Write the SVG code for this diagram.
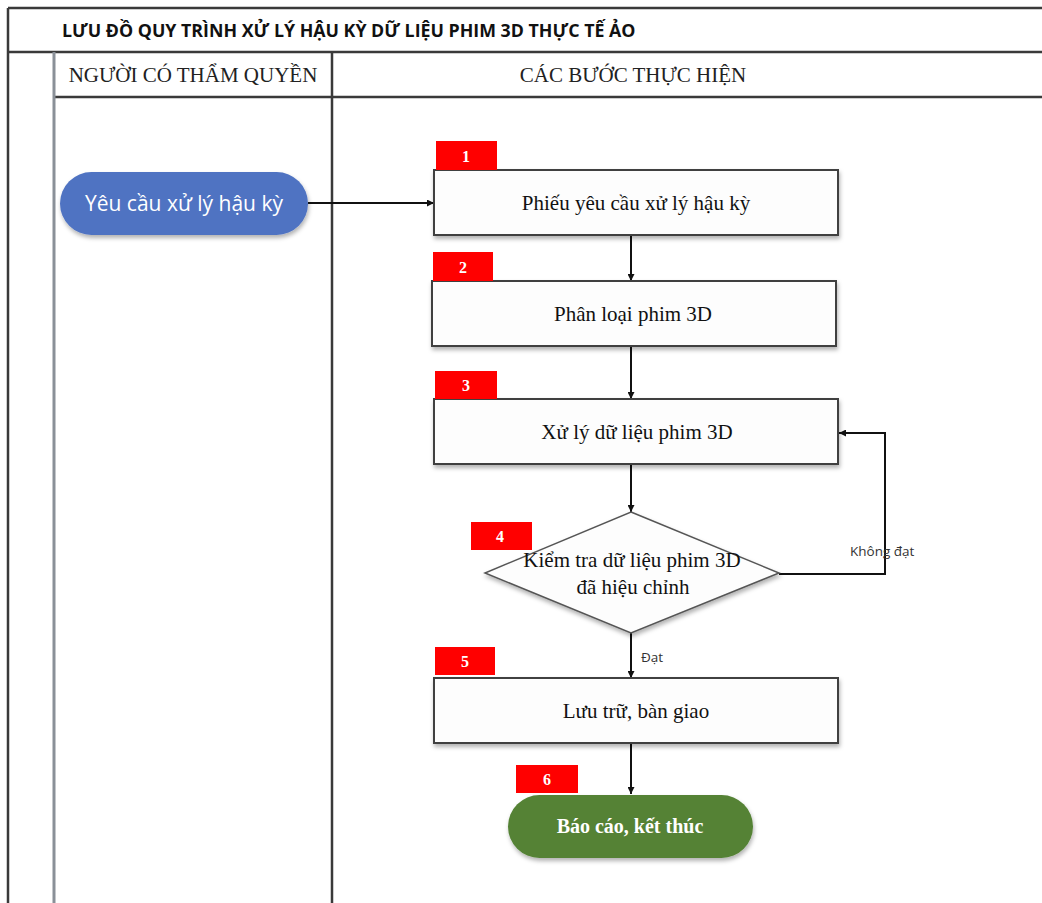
<svg xmlns="http://www.w3.org/2000/svg" width="1042" height="903" viewBox="0 0 1042 903">
<defs>
<style>
.grid{stroke:#3a3a3a;stroke-width:2.5;fill:none}
.gridl{stroke:#8a9098;stroke-width:3;fill:none}
.title{font-family:"Open Sans","Liberation Sans",sans-serif;font-weight:bold;font-size:17.8px;fill:#111}
.hdr{font-family:"Liberation Serif",serif;font-size:21px;fill:#222}
.box{fill:#fdfdfd;stroke:#404040;stroke-width:2}
.btxt{font-family:"Liberation Serif",serif;font-size:21px;fill:#111;text-anchor:middle}
.badge{fill:#ff0000}
.bnum{font-family:"Liberation Serif",serif;font-weight:bold;font-size:16px;fill:#fff;text-anchor:middle}
.conn{stroke:#111;stroke-width:2;fill:none}
.lbl{font-family:"Open Sans","Liberation Sans",sans-serif;font-size:13.5px;fill:#333}
</style>
<marker id="arr" viewBox="0 0 10 10" refX="10" refY="5" markerWidth="7" markerHeight="7" orient="auto" markerUnits="userSpaceOnUse">
<path d="M0,0 L10,5 L0,10 z" fill="#111"/>
</marker>
<filter id="sh" x="-10%" y="-10%" width="130%" height="140%">
<feDropShadow dx="1" dy="3" stdDeviation="2" flood-color="#000" flood-opacity="0.3"/>
</filter>
</defs>
<rect width="1042" height="903" fill="#fff"/>
<g id="frame">
<line class="grid" x1="8" y1="8" x2="1042" y2="8"/>
<line class="grid" x1="8" y1="52" x2="1042" y2="52"/>
<line class="grid" x1="54" y1="97" x2="1042" y2="97"/>
<line class="grid" x1="8" y1="8" x2="8" y2="903"/>
<line class="gridl" x1="54" y1="52" x2="54" y2="903"/>
<line class="grid" x1="332" y1="52" x2="332" y2="903"/>
<text class="title" x="62" y="37">LƯU ĐỒ QUY TRÌNH XỬ LÝ HẬU KỲ DỮ LIỆU PHIM 3D THỰC TẾ ẢO</text>
<text class="hdr" x="193" y="82" text-anchor="middle">NGƯỜI CÓ THẨM QUYỀN</text>
<text class="hdr" x="633" y="82" text-anchor="middle">CÁC BƯỚC THỰC HIỆN</text>
</g>
<g id="connectors">
<line class="conn" x1="308" y1="203" x2="434" y2="203" marker-end="url(#arr)"/>
<line class="conn" x1="631" y1="235" x2="631" y2="281" marker-end="url(#arr)"/>
<line class="conn" x1="631" y1="346" x2="631" y2="399" marker-end="url(#arr)"/>
<line class="conn" x1="631" y1="464" x2="631" y2="512" marker-end="url(#arr)"/>
<line class="conn" x1="631" y1="633" x2="631" y2="678" marker-end="url(#arr)"/>
<line class="conn" x1="631" y1="743" x2="631" y2="794" marker-end="url(#arr)"/>
<polyline class="conn" points="779,574 885,574 885,433 839,433" marker-end="url(#arr)"/>
<text class="lbl" x="850" y="556">Không đạt</text>
<text class="lbl" x="641" y="662">Đạt</text>
</g>
<g id="start">
<rect x="60" y="172" width="248" height="63" rx="31.5" fill="#4f73c2" filter="url(#sh)"/>
<text x="184" y="211" text-anchor="middle" font-family="'Open Sans','Liberation Sans',sans-serif" font-size="21" fill="#fff">Yêu cầu xử lý hậu kỳ</text>
</g>
<g id="step1">
<rect class="box" x="434" y="170" width="404" height="65" filter="url(#sh)"/>
<rect class="badge" x="436" y="141" width="61" height="29"/>
<text class="bnum" x="466" y="162">1</text>
<text class="btxt" x="636" y="210">Phiếu yêu cầu xử lý hậu kỳ</text>
</g>
<g id="step2">
<rect class="box" x="432" y="281" width="404" height="65" filter="url(#sh)"/>
<rect class="badge" x="433" y="252" width="60" height="29"/>
<text class="bnum" x="463" y="273">2</text>
<text class="btxt" x="633" y="321" font-size="22.5">Phân loại phim 3D</text>
</g>
<g id="step3">
<rect class="box" x="434" y="399" width="404" height="65" filter="url(#sh)"/>
<rect class="badge" x="435" y="371" width="62" height="28"/>
<text class="bnum" x="466" y="391">3</text>
<text class="btxt" x="637" y="439" font-size="22.5">Xử lý dữ liệu phim 3D</text>
</g>
<g id="step4">
<polygon points="631,512 779,573 631,633 485,573" fill="#fdfdfd" stroke="#555" stroke-width="1.5" filter="url(#sh)"/>
<rect class="badge" x="471" y="522" width="61" height="28"/>
<text class="bnum" x="500" y="542">4</text>
<text class="btxt" x="632" y="567">Kiểm tra dữ liệu phim 3D</text>
<text class="btxt" x="633" y="594">đã hiệu chỉnh</text>
</g>
<g id="step5">
<rect class="box" x="434" y="678" width="404" height="65" filter="url(#sh)"/>
<rect class="badge" x="435" y="647" width="60" height="28"/>
<text class="bnum" x="465" y="667">5</text>
<text class="btxt" x="636" y="718">Lưu trữ, bàn giao</text>
</g>
<g id="end">
<rect class="badge" x="516" y="765" width="62" height="28"/>
<text class="bnum" x="547" y="785">6</text>
<rect x="508" y="795" width="245" height="63" rx="31.5" fill="#548235" filter="url(#sh)"/>
<text x="630" y="833" text-anchor="middle" font-family="'Liberation Serif',serif" font-weight="bold" font-size="20" fill="#fff">Báo cáo, kết thúc</text>
</g>
</svg>
